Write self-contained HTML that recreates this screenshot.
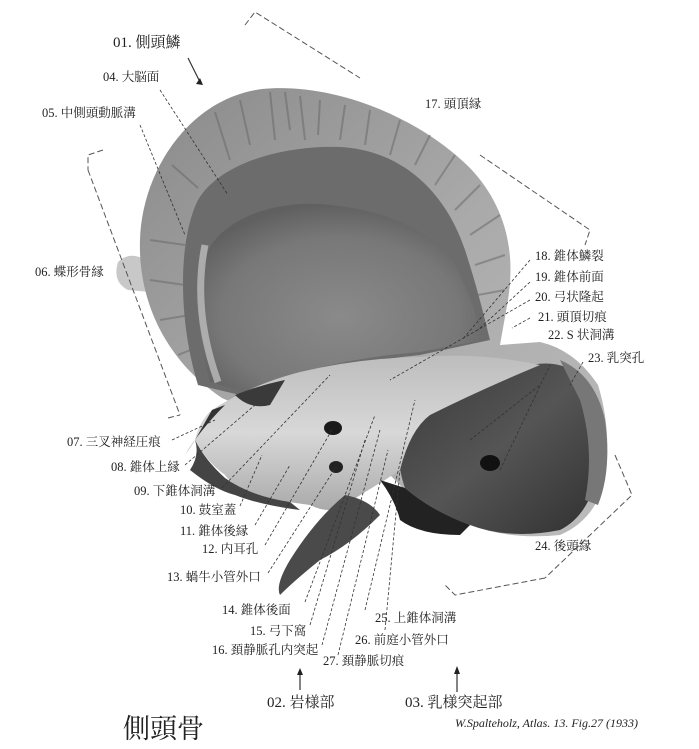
<!DOCTYPE html>
<html><head><meta charset="utf-8"><style>
html,body{margin:0;padding:0;background:#fff;}
svg{display:block}
text{font-family:"Liberation Serif","Noto Serif CJK SC",serif;fill:#222;}
</style></head><body>
<svg width="699" height="749" viewBox="0 0 699 749" xmlns="http://www.w3.org/2000/svg">
<defs>
<radialGradient id="inner" cx="0.5" cy="0.6" r="0.6">
<stop offset="0" stop-color="#8a8a8a"/><stop offset="0.7" stop-color="#787878"/><stop offset="1" stop-color="#606060"/>
</radialGradient>
<linearGradient id="rim" x1="0" y1="0" x2="1" y2="1">
<stop offset="0" stop-color="#8a8a8a"/><stop offset="0.5" stop-color="#aaa"/><stop offset="1" stop-color="#bcbcbc"/>
</linearGradient>
<linearGradient id="pet" x1="0" y1="0" x2="0" y2="1">
<stop offset="0" stop-color="#bdbdbd"/><stop offset="0.5" stop-color="#d8d8d8"/><stop offset="1" stop-color="#aaa"/>
</linearGradient>
<linearGradient id="mast" x1="0" y1="0" x2="1" y2="1">
<stop offset="0" stop-color="#3a3a3a"/><stop offset="0.5" stop-color="#555"/><stop offset="1" stop-color="#303030"/>
</linearGradient>
</defs>

<path d="M118,262 Q128,252 142,258 L152,262 L150,292 L128,290 Q112,282 118,262Z" fill="#c8c8c8"/>

<path d="M222,398 C165,360 138,300 140,240 C142,170 190,98 262,89 C335,82 420,118 470,168 C505,205 516,250 508,300 L500,345 L540,342 Q575,350 598,385 Q612,430 605,480 Q595,520 560,535 Q510,540 470,525 Q430,512 405,490 L385,470 Z" fill="url(#rim)"/>
<g stroke="#666" stroke-width="2" opacity="0.5">
<line x1="270" y1="92" x2="275" y2="140"/><line x1="285" y1="92" x2="290" y2="130"/><line x1="300" y1="96" x2="305" y2="140"/>
<line x1="320" y1="100" x2="318" y2="135"/><line x1="345" y1="105" x2="340" y2="140"/><line x1="370" y1="110" x2="365" y2="145"/>
<line x1="400" y1="120" x2="390" y2="155"/><line x1="430" y1="135" x2="415" y2="165"/><line x1="455" y1="155" x2="435" y2="185"/>
<line x1="480" y1="185" x2="455" y2="210"/><line x1="500" y1="215" x2="470" y2="235"/><line x1="505" y1="255" x2="475" y2="265"/>
<line x1="505" y1="290" x2="478" y2="295"/><line x1="150" y1="240" x2="185" y2="245"/><line x1="150" y1="280" x2="185" y2="285"/>
<line x1="160" y1="320" x2="190" y2="315"/><line x1="178" y1="355" x2="203" y2="345"/><line x1="240" y1="100" x2="250" y2="145"/>
<line x1="215" y1="112" x2="230" y2="160"/><line x1="172" y1="165" x2="198" y2="188"/>
</g>
<path d="M198,385 C178,320 178,240 198,200 C222,160 290,145 340,147 C400,150 445,190 465,250 C478,290 485,320 490,340 L420,355 Q320,365 240,395 Z" fill="#6c6c6c"/>
<path d="M210,382 C192,320 195,265 215,240 C240,210 290,200 330,205 C400,212 445,240 460,275 C472,300 478,320 482,340 L420,352 Q320,360 245,392 Z" fill="url(#inner)"/>
<path d="M205,245 Q192,310 218,382" stroke="#c8c8c8" stroke-width="7" fill="none" opacity="0.7"/>

<path d="M400,420 Q450,385 520,368 Q560,355 585,380 Q605,420 598,470 Q590,515 560,530 Q510,540 470,525 Q430,510 405,488 Q395,460 400,420Z" fill="url(#mast)"/>
<path d="M560,360 Q595,375 605,420 Q612,470 598,505 L585,500 Q595,450 580,400 Z" fill="#777"/>
<ellipse cx="490" cy="463" rx="10" ry="8" fill="#111"/>

<path d="M212,410 Q250,385 300,372 Q360,358 420,357 Q480,352 540,365 Q480,390 430,415 Q410,430 400,470 L385,480 Q360,495 345,505 Q330,515 310,505 Q290,502 270,500 Q240,495 225,475 Q205,460 195,440 Q200,420 212,410Z" fill="url(#pet)"/>
<path d="M195,440 Q205,460 225,478 Q250,496 290,502 L300,510 Q260,505 235,495 Q215,490 190,470 Q200,455 195,440Z" fill="#444"/>
<path d="M212,410 L195,440 L185,455 Q200,430 225,405Z" fill="#333"/>
<path d="M235,395 Q260,385 285,380 L270,405 Q250,410 235,395Z" fill="#3a3a3a"/>
<ellipse cx="333" cy="428" rx="9" ry="7" fill="#1a1a1a"/>
<ellipse cx="336" cy="467" rx="7" ry="6" fill="#222"/>
<path d="M345,495 Q370,500 380,515 Q350,545 320,560 Q295,580 280,595 Q275,585 290,560 Q315,520 345,495Z" fill="#4a4a4a"/>
<path d="M380,480 Q395,500 400,520 Q420,535 460,535 L470,525 Q430,510 405,488Z" fill="#222"/>

<g stroke="#555" stroke-width="1" fill="none" stroke-dasharray="6,3">
<polyline points="245,25 255,12 360,78"/>
<polyline points="103,150 88,155 88,170"/>
<line x1="88" y1="170" x2="180" y2="415"/>
<polyline points="168,418 180,415"/>
<polyline points="480,155 590,230 585,245"/>
<polyline points="615,455 632,495 545,578"/>
<polyline points="545,578 455,595 445,585"/>
</g>
<g stroke="#333" stroke-width="0.8" fill="none" stroke-dasharray="3,2">
<line x1="160" y1="90" x2="228" y2="195"/>
<line x1="140" y1="125" x2="185" y2="235"/>
<line x1="530" y1="260" x2="462" y2="340"/>
<line x1="530" y1="282" x2="478" y2="330"/>
<line x1="530" y1="300" x2="390" y2="380"/>
<line x1="530" y1="318" x2="512" y2="328"/>
<line x1="583" y1="362" x2="570" y2="385"/>
<line x1="172" y1="440" x2="215" y2="420"/>
<line x1="185" y1="465" x2="255" y2="405"/>
<line x1="222" y1="488" x2="330" y2="375"/>
<line x1="240" y1="506" x2="262" y2="455"/>
<line x1="255" y1="525" x2="290" y2="465"/>
<line x1="265" y1="545" x2="333" y2="428"/>
<line x1="268" y1="573" x2="336" y2="467"/>
<line x1="305" y1="602" x2="375" y2="415"/>
<line x1="310" y1="625" x2="365" y2="440"/>
<line x1="322" y1="645" x2="380" y2="430"/>
<line x1="338" y1="655" x2="388" y2="450"/>
<line x1="365" y1="610" x2="415" y2="400"/>
<line x1="385" y1="630" x2="400" y2="470"/>
<line x1="500" y1="470" x2="550" y2="365"/>
<line x1="470" y1="440" x2="540" y2="385"/>
</g>
<g stroke="#333" stroke-width="1.2" fill="none">
<line x1="188" y1="58" x2="200" y2="82"/>
<line x1="300" y1="690" x2="300" y2="674"/>
<line x1="457" y1="692" x2="457" y2="672"/>
</g>
<path d="M196,84 L203,85 L200,78Z M297,675 L303,675 L300,668Z M454,674 L460,674 L457,666Z" fill="#222"/>

<g font-size="12.5">
<text x="113" y="47" font-size="15">01. 側頭鱗</text>
<text x="103" y="81">04. 大脳面</text>
<text x="42" y="117">05. 中側頭動脈溝</text>
<text x="425" y="108">17. 頭頂縁</text>
<text x="35" y="276">06. 蝶形骨縁</text>
<text x="535" y="260">18. 錐体鱗裂</text>
<text x="535" y="281">19. 錐体前面</text>
<text x="535" y="301">20. 弓状隆起</text>
<text x="538" y="321">21. 頭頂切痕</text>
<text x="548" y="339">22. S 状洞溝</text>
<text x="588" y="362">23. 乳突孔</text>
<text x="67" y="446">07. 三叉神経圧痕</text>
<text x="111" y="471">08. 錐体上縁</text>
<text x="134" y="495">09. 下錐体洞溝</text>
<text x="180" y="514">10. 鼓室蓋</text>
<text x="180" y="535">11. 錐体後縁</text>
<text x="202" y="553">12. 内耳孔</text>
<text x="167" y="581">13. 蝸牛小管外口</text>
<text x="535" y="550">24. 後頭縁</text>
<text x="222" y="614">14. 錐体後面</text>
<text x="375" y="622">25. 上錐体洞溝</text>
<text x="250" y="635">15. 弓下窩</text>
<text x="355" y="644">26. 前庭小管外口</text>
<text x="212" y="654">16. 頚静脈孔内突起</text>
<text x="323" y="665">27. 頚静脈切痕</text>
<text x="267" y="707" font-size="15">02. 岩様部</text>
<text x="405" y="707" font-size="15">03. 乳様突起部</text>
<text x="123" y="738" font-size="27">側頭骨</text>
<text x="455" y="727" font-size="12" font-style="italic">W.Spalteholz, Atlas. 13. Fig.27 (1933)</text>
</g>
</svg>
</body></html>
